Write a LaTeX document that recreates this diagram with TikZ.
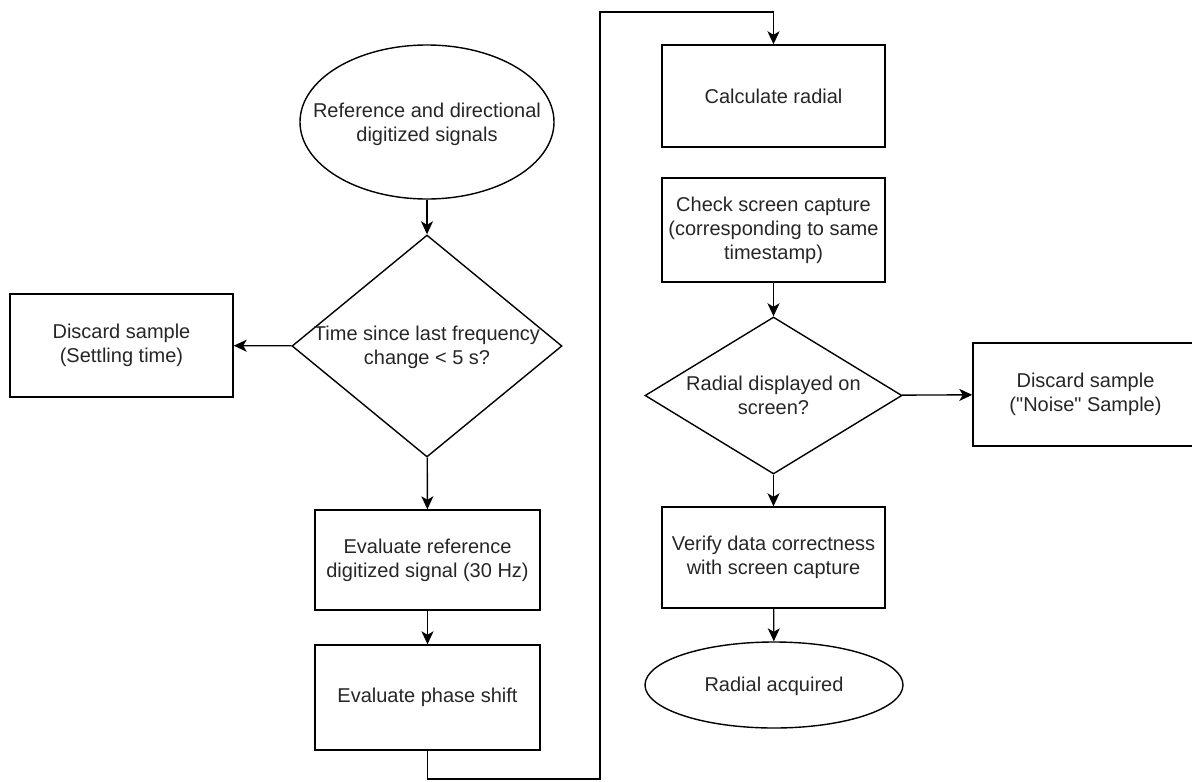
\documentclass[tikz,border=0pt]{standalone}
\usepackage{fontspec}
\setmainfont{Liberation Sans}[Ligatures=TeXOff]
\usetikzlibrary{shapes.geometric,arrows.meta}

\begin{document}
\begin{tikzpicture}[
    x=1pt, y=-1pt,
    every node/.style={font=\fontsize{20}{24}\selectfont, text=black!85},
    procbox/.style={draw, rectangle, line width=1.4pt, align=center, inner sep=0pt},
    decision/.style={draw, diamond, line width=1.4pt, inner sep=0pt},
    terminal/.style={draw, ellipse, line width=1.4pt, inner sep=0pt},
    txt/.style={align=center, inner sep=0pt},
    flow/.style={line width=1.4pt, -{Stealth[length=13pt,width=12pt,inset=3.5pt]}}
  ]
% Page frame in pixels
\def\pagew{1192}
\def\pageh{782}
\useasboundingbox (0,0) rectangle (\pagew,\pageh);

% Left column
\node[terminal, minimum width=254, minimum height=154] (start) at (427,122) {};
\node[txt] (starttxt) at (427,124) {Reference and directional\\digitized signals};
\node[decision, minimum width=270, minimum height=222] (settle) at (427,346) {};
\node[txt] (settletxt) at (427,347) {Time since last frequency\\change < 5 s?};
\node[procbox, minimum width=223, minimum height=103] (discard) at (121.5,345.5) {Discard sample\\(Settling time)};
\node[procbox, minimum width=225, minimum height=100] (evalref) at (427.5,560) {Evaluate reference\\digitized signal (30 Hz)};
\node[procbox, minimum width=225, minimum height=105] (phase) at (427.5,697.5) {Evaluate phase shift};

% Right column
\node[procbox, minimum width=223, minimum height=102] (calc) at (773.5,96) {Calculate radial};
\node[procbox, minimum width=223, minimum height=104] (check) at (773.5,230) {Check screen capture\\(corresponding to same\\timestamp)};
\node[decision, minimum width=257, minimum height=157] (shown) at (773.5,395.5) {};
\node[txt] (showntxt) at (773.5,395) {Radial displayed on\\screen?};
\node[procbox, minimum width=225, minimum height=103] (noise) at (1085.5,394.5) {Discard sample\\("Noise" Sample)};
\node[procbox, minimum width=223, minimum height=101] (verify) at (773.5,557.5) {Verify data correctness\\with screen capture};
\node[terminal, minimum width=258, minimum height=86] (done) at (774,685) {};
\node[txt] (donetxt) at (774,686) {Radial acquired};

% Loop corners
\coordinate (lowturn) at (600,779);
\coordinate (topturn) at (600,12);

% Connectors
\draw[flow] (start) -- (settle);
\draw[flow] (settle) -- (discard);
\draw[flow] (settle) -- (evalref);
\draw[flow] (evalref) -- (phase);
\draw[flow] (phase.south) |- (lowturn) -- (topturn) -| (calc.north);
\draw[flow] (check) -- (shown);
\draw[flow] (shown) -- (noise);
\draw[flow] (shown) -- (verify);
\draw[flow] (verify) -- (done);
\end{tikzpicture}
\end{document}
